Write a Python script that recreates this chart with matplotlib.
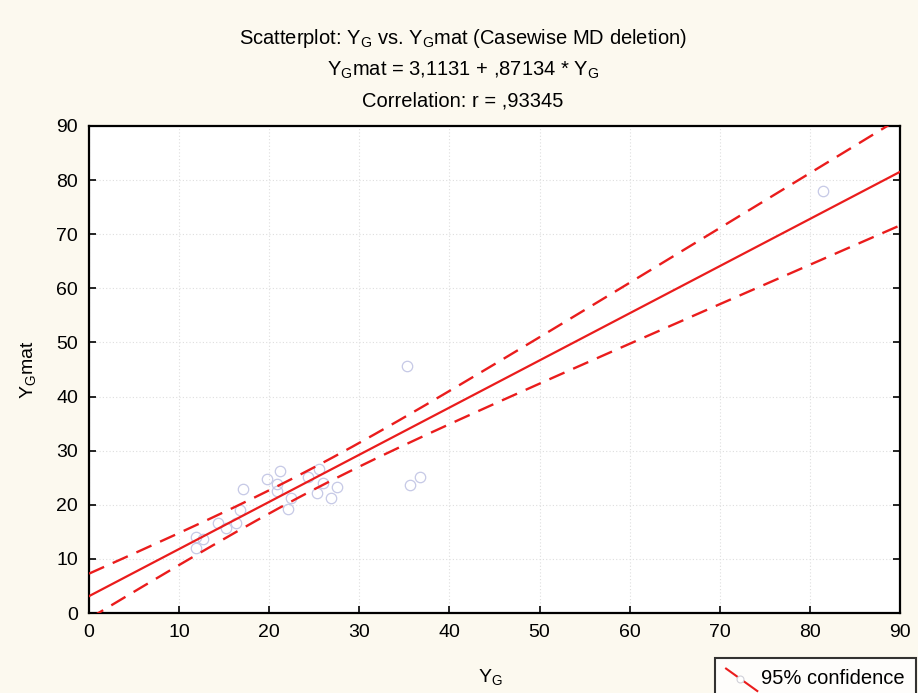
import numpy as np
import matplotlib
matplotlib.use("Agg")
import matplotlib.pyplot as plt
from matplotlib.lines import Line2D
from matplotlib.legend_handler import HandlerBase

plt.rcParams['font.family'] = ['Liberation Sans', 'DejaVu Sans']
plt.rcParams['mathtext.fontset'] = 'custom'
plt.rcParams['mathtext.rm'] = 'Liberation Sans'
plt.rcParams['mathtext.it'] = 'Liberation Sans'

# data
yg = [11.9, 11.9, 12.6, 14.3, 15.2, 16.3, 16.8, 17.1, 19.8, 21.2,
      20.9, 20.9, 22.1, 22.4, 25.5, 24.3, 26.0, 25.3, 27.5, 26.9,
      35.3, 35.6, 36.7, 81.4]
yg_mat = [14.0, 12.1, 13.6, 16.6, 15.7, 16.7, 19.0, 22.9, 24.7, 26.2,
          23.8, 22.5, 19.3, 21.2, 26.6, 25.1, 24.0, 22.2, 23.3, 21.2,
          45.7, 23.7, 25.1, 77.9]

intercept = 3.1131
slope = 0.87134
t_crit = 2.074  # t(0.975, n-2), n = 24

RED = '#ea1c1c'
BG = '#fcf9ef'

x = np.array(yg)
y = np.array(yg_mat)
n = len(x)
resid = y - (intercept + slope * x)
s = np.sqrt(np.sum(resid ** 2) / (n - 2))
sxx = np.sum((x - x.mean()) ** 2)

xs = np.linspace(0, 90, 300)
fit = intercept + slope * xs
half = t_crit * s * np.sqrt(1.0 / n + (xs - x.mean()) ** 2 / sxx)

fig = plt.figure(figsize=(9.18, 6.93), dpi=100, facecolor=BG)
ax = fig.add_axes([89 / 918, 1 - 613 / 693, (900 - 89) / 918, (613 - 126) / 693])
ax.set_facecolor('white')

ax.grid(True, linestyle=(0, (1, 2)), color='#dedede', linewidth=0.8)
ax.set_axisbelow(True)

ax.plot(x, y, 'o', ms=7.5, mfc='none', mec='#c6c9e6', mew=0.9, zorder=3)
ax.plot(xs, fit, color=RED, lw=1.6, zorder=4)
ax.plot(xs, fit + half, color=RED, lw=1.7, ls=(0, (7, 4)), zorder=4)
ax.plot(xs, fit - half, color=RED, lw=1.7, ls=(0, (7, 4)), zorder=4)

ax.set_xlim(0, 90)
ax.set_ylim(0, 90)
ax.set_xticks(range(0, 91, 10))
ax.set_yticks(range(0, 91, 10))
ax.tick_params(direction='in', length=5, width=1.2, labelsize=14, colors='black',
               right=True)
ax.tick_params(axis='y', pad=8)
ax.tick_params(axis='x', pad=8)
for sp in ax.spines.values():
    sp.set_linewidth(1.6)
    sp.set_color('black')

fig.text(490 / 918, 1 - 677 / 693, r'Y$_\mathrm{G}$', ha='center', va='center', fontsize=14)
fig.text(28 / 918, 1 - 370 / 693, r'Y$_\mathrm{G}$mat', ha='center', va='center', fontsize=14,
         rotation=90)

fig.text(463 / 918, 1 - 39 / 693, r'Scatterplot: Y$_\mathrm{G}$ vs. Y$_\mathrm{G}$mat (Casewise MD deletion)',
         ha='center', va='center', fontsize=14.5)
fig.text(463 / 918, 1 - 70 / 693, r'Y$_\mathrm{G}$mat = 3,1131 + ,87134 * Y$_\mathrm{G}$',
         ha='center', va='center', fontsize=14.5)
fig.text(463 / 918, 1 - 101 / 693, 'Correlation: r = ,93345',
         ha='center', va='center', fontsize=14.5)


class DiagHandler(HandlerBase):
    def create_artists(self, legend, orig, xd, yd, w, h, fs, trans):
        ln = Line2D([xd, xd + w], [yd + h + 1, yd - 5], color=RED, lw=1.5, transform=trans)
        mk = Line2D([xd + w * 0.45], [yd + h * 0.35], marker='o', ms=5, mfc='white',
                    mec='#d0d0d8', mew=0.8, transform=trans)
        return [ln, mk]


leg_handle = Line2D([], [], color=RED)
leg = fig.legend([leg_handle], ['95% confidence'], handler_map={Line2D: DiagHandler()},
                 loc='upper left', bbox_to_anchor=(715 / 918, 1 - 658 / 693),
                 fontsize=14.5, frameon=True, fancybox=False, handlelength=1.55,
                 handletextpad=0.2, borderpad=0.55, borderaxespad=0)
leg.get_frame().set_edgecolor('black')
leg.get_frame().set_linewidth(1.5)
leg.get_frame().set_facecolor('white')

fig.savefig('out.png', dpi=100, facecolor=BG)
